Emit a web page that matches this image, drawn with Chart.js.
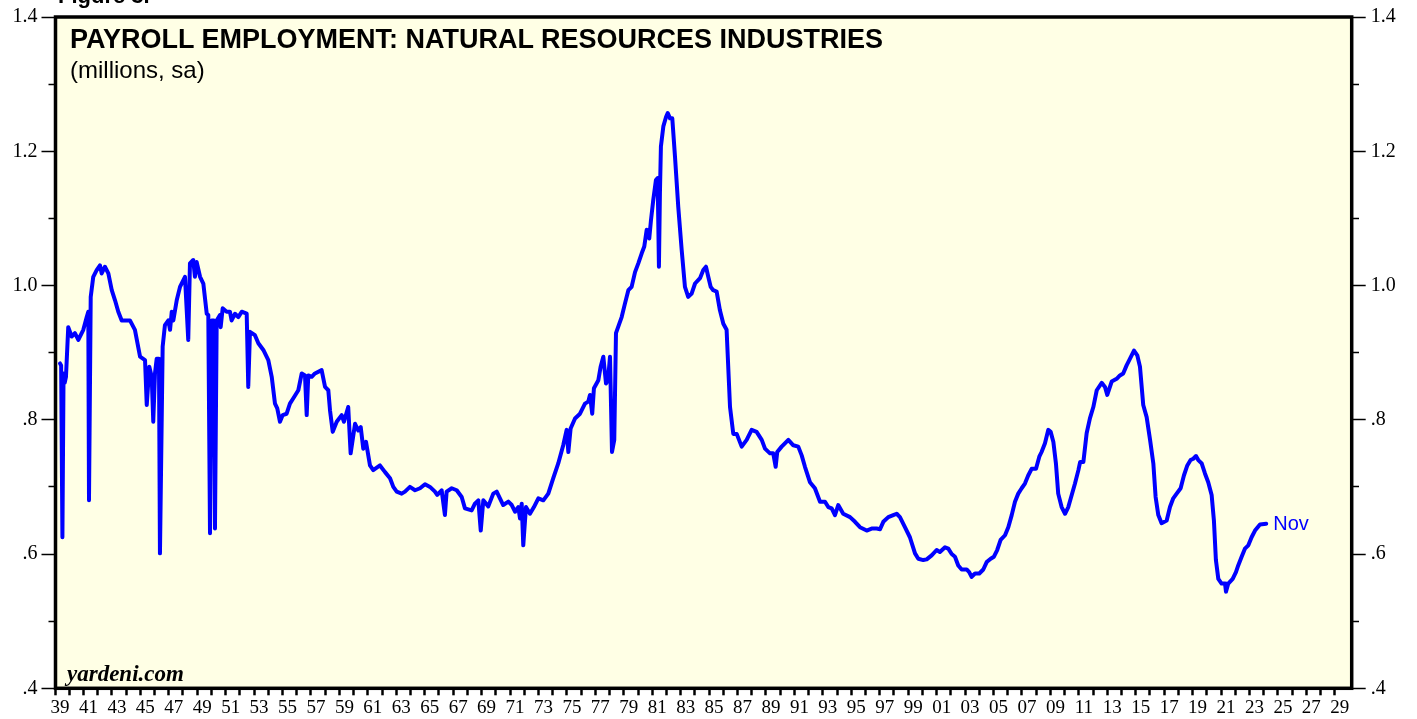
<!DOCTYPE html>
<html>
<head>
<meta charset="utf-8">
<title>Payroll Employment: Natural Resources Industries</title>
<script src="https://cdn.jsdelivr.net/npm/chart.js@4.4.1/dist/chart.umd.min.js"></script>
<style>
  html, body { margin: 0; padding: 0; background: #ffffff; }
  #wrap { position: relative; width: 1417px; height: 719px; overflow: hidden; }
  #chartEmployment { position: absolute; left: 0; top: 0; }
  .txt { position: absolute; white-space: nowrap; line-height: 1; color: #000; }
  #figure { left: 58px; top: -17px; font: bold 22px "Liberation Sans", Arial, sans-serif; }
  #title { left: 70px; top: 24px; font: bold 27px "Liberation Sans", Arial, sans-serif; }
  #subtitle { left: 70px; top: 56px; font: 24px "Liberation Sans", Arial, sans-serif; }
  #source { left: 67px; top: 661px; font: italic bold 23px "Liberation Serif", "Times New Roman", serif; }
</style>
</head>
<body>
<div id="wrap">
  <canvas id="chartEmployment" width="1417" height="719"></canvas>
  <div class="txt" id="figure">Figure 3.</div>
  <div class="txt" id="title">PAYROLL EMPLOYMENT: NATURAL RESOURCES INDUSTRIES</div>
  <div class="txt" id="subtitle">(millions, sa)</div>
  <div class="txt" id="source">yardeni.com</div>
</div>
<script>
// decimal year, millions of jobs (sa)
const years = [
  1939.00,1939.08,1939.17,1939.25,1939.33,1939.42,1939.58,1939.82,1940.05,1940.29,
  1940.64,1940.88,1940.99,1941.04,1941.16,1941.34,1941.58,1941.81,1941.93,1942.16,
  1942.40,1942.64,1942.87,1943.10,1943.34,1943.69,1943.92,1944.27,1944.63,1944.98,
  1945.10,1945.28,1945.45,1945.56,1945.68,1945.80,1945.96,1946.03,1946.22,1946.38,
  1946.62,1946.74,1946.86,1946.97,1947.21,1947.44,1947.79,1948.02,1948.14,1948.37,
  1948.49,1948.61,1948.85,1949.08,1949.32,1949.43,1949.55,1949.67,1949.83,1949.90,
  1950.02,1950.25,1950.30,1950.44,1950.72,1950.95,1951.07,1951.31,1951.54,1951.78,
  1952.13,1952.24,1952.36,1952.71,1952.95,1953.30,1953.65,1953.89,1954.12,1954.28,
  1954.47,1954.66,1954.94,1955.17,1955.41,1955.76,1956.00,1956.23,1956.35,1956.46,
  1956.70,1956.93,1957.40,1957.64,1957.87,1957.99,1958.18,1958.46,1958.81,1958.97,
  1959.27,1959.44,1959.75,1959.98,1960.15,1960.33,1960.52,1960.80,1961.03,1961.50,
  1961.86,1962.21,1962.44,1962.68,1963.03,1963.26,1963.61,1963.97,1964.32,1964.67,
  1965.02,1965.37,1965.53,1965.84,1966.07,1966.19,1966.55,1966.90,1967.25,1967.48,
  1967.95,1968.18,1968.42,1968.59,1968.77,1969.12,1969.47,1969.71,1970.17,1970.53,
  1970.77,1971.00,1971.23,1971.35,1971.47,1971.58,1971.77,1972.05,1972.33,1972.64,
  1972.99,1973.34,1973.69,1974.04,1974.39,1974.63,1974.75,1974.91,1975.22,1975.57,
  1975.92,1976.15,1976.27,1976.43,1976.55,1976.86,1977.02,1977.21,1977.40,1977.54,
  1977.68,1977.82,1977.98,1978.10,1978.33,1978.50,1978.73,1978.97,1979.20,1979.44,
  1979.67,1979.91,1980.09,1980.26,1980.44,1980.56,1980.72,1980.91,1981.03,1981.12,
  1981.19,1981.26,1981.43,1981.62,1981.74,1981.90,1982.06,1982.25,1982.48,1982.72,
  1982.95,1983.18,1983.42,1983.66,1984.01,1984.24,1984.43,1984.59,1984.76,1984.94,
  1985.18,1985.41,1985.65,1985.88,1986.12,1986.35,1986.59,1986.94,1987.29,1987.64,
  1987.99,1988.35,1988.58,1988.93,1989.16,1989.33,1989.44,1989.75,1989.98,1990.22,
  1990.57,1990.92,1991.16,1991.39,1991.74,1992.09,1992.45,1992.80,1993.03,1993.27,
  1993.50,1993.73,1994.08,1994.56,1994.91,1995.26,1995.73,1996.08,1996.43,1996.67,
  1996.90,1997.25,1997.60,1997.84,1998.07,1998.42,1998.77,1999.13,1999.36,1999.71,
  1999.95,2000.30,2000.65,2000.88,2001.24,2001.47,2001.71,2001.94,2002.17,2002.41,
  2002.76,2002.94,2003.11,2003.35,2003.65,2003.93,2004.17,2004.45,2004.68,2004.91,
  2005.15,2005.46,2005.69,2005.93,2006.16,2006.39,2006.63,2006.86,2007.09,2007.33,
  2007.64,2007.87,2008.03,2008.27,2008.50,2008.67,2008.86,2009.04,2009.20,2009.44,
  2009.68,2009.91,2010.15,2010.38,2010.62,2010.74,2010.97,2011.20,2011.43,2011.67,
  2011.91,2012.26,2012.49,2012.65,2012.96,2013.31,2013.54,2013.77,2014.01,2014.25,
  2014.53,2014.76,2014.95,2015.18,2015.42,2015.66,2015.89,2016.05,2016.24,2016.47,
  2016.83,2017.06,2017.29,2017.53,2017.81,2018.04,2018.28,2018.51,2018.70,2018.89,
  2019.05,2019.29,2019.52,2019.75,2019.99,2020.15,2020.29,2020.46,2020.69,2020.93,
  2021.00,2021.16,2021.47,2021.70,2021.86,2022.10,2022.33,2022.57,2022.80,2023.04,
  2023.39,2023.83
];

const employment = [
  0.884,0.881,0.625,0.869,0.855,0.864,0.938,0.924,0.929,0.919,
  0.934,0.953,0.961,0.680,0.983,1.013,1.023,1.030,1.018,1.028,
  1.018,0.993,0.978,0.961,0.948,0.948,0.948,0.934,0.894,0.889,
  0.822,0.879,0.864,0.797,0.869,0.891,0.891,0.601,0.909,0.941,
  0.948,0.934,0.961,0.948,0.978,0.998,1.013,0.919,1.033,1.038,
  1.013,1.035,1.013,1.003,0.958,0.956,0.631,0.948,0.948,0.638,
  0.948,0.956,0.938,0.966,0.961,0.961,0.948,0.958,0.953,0.961,
  0.958,0.849,0.931,0.926,0.914,0.904,0.889,0.864,0.824,0.817,
  0.797,0.807,0.809,0.824,0.832,0.844,0.869,0.866,0.807,0.866,
  0.864,0.869,0.874,0.849,0.844,0.814,0.782,0.797,0.807,0.797,
  0.819,0.750,0.794,0.784,0.789,0.757,0.767,0.732,0.725,0.732,
  0.722,0.713,0.700,0.693,0.690,0.693,0.700,0.695,0.698,0.704,
  0.700,0.693,0.688,0.695,0.658,0.693,0.698,0.695,0.685,0.668,
  0.665,0.675,0.680,0.635,0.680,0.671,0.690,0.693,0.673,0.678,
  0.673,0.663,0.670,0.653,0.675,0.613,0.670,0.660,0.670,0.683,
  0.680,0.690,0.713,0.735,0.762,0.785,0.752,0.787,0.802,0.809,
  0.824,0.827,0.837,0.809,0.847,0.859,0.879,0.894,0.854,0.859,
  0.894,0.752,0.770,0.929,0.943,0.953,0.973,0.993,0.998,1.020,
  1.033,1.048,1.058,1.083,1.070,1.097,1.127,1.157,1.160,1.028,
  1.137,1.207,1.237,1.251,1.257,1.249,1.249,1.192,1.117,1.053,
  0.998,0.983,0.988,1.003,1.011,1.023,1.028,1.013,0.998,0.993,
  0.991,0.963,0.943,0.934,0.819,0.779,0.779,0.760,0.770,0.785,
  0.782,0.770,0.757,0.750,0.750,0.730,0.752,0.760,0.765,0.770,
  0.762,0.760,0.747,0.730,0.707,0.698,0.678,0.678,0.670,0.668,
  0.658,0.673,0.660,0.655,0.648,0.640,0.635,0.638,0.638,0.637,
  0.648,0.655,0.658,0.660,0.655,0.640,0.625,0.601,0.593,0.591,
  0.592,0.598,0.606,0.603,0.610,0.608,0.600,0.596,0.583,0.577,
  0.577,0.573,0.566,0.571,0.571,0.577,0.588,0.593,0.596,0.606,
  0.621,0.628,0.640,0.658,0.678,0.690,0.698,0.705,0.717,0.727,
  0.727,0.745,0.752,0.765,0.785,0.782,0.767,0.735,0.690,0.670,
  0.660,0.670,0.688,0.705,0.725,0.737,0.737,0.780,0.802,0.819,
  0.844,0.855,0.849,0.837,0.857,0.861,0.866,0.869,0.881,0.891,
  0.903,0.896,0.879,0.822,0.804,0.770,0.735,0.685,0.658,0.646,
  0.650,0.670,0.683,0.690,0.698,0.717,0.732,0.740,0.742,0.746,
  0.740,0.735,0.720,0.707,0.688,0.650,0.591,0.563,0.556,0.556,
  0.544,0.556,0.563,0.573,0.583,0.596,0.608,0.613,0.625,0.635,
  0.644,0.645
];

// axis ticks
const tickYears = [];
for (let y = 1939; y <= 2029; y++) tickYears.push(y);
const lastLabel = 'Nov';

document.addEventListener('DOMContentLoaded', function () {
  chartEmployment();
});

function yLabel(v) {
  const n = Math.round(v * 10);
  if (n % 2) return '';
  const s = (n / 10).toFixed(1);
  return n < 10 ? s.slice(1) : s;
}

function isMinor(ctx) {
  return Math.round(ctx.tick.value * 10) % 2 === 1;
}

function chartEmployment() {
  const canva = document.getElementById('chartEmployment').getContext('2d');

  const plotFrame = {
    id: 'plotFrame',
    beforeDraw(chart) {
      const a = chart.chartArea;
      const c = chart.ctx;
      c.save();
      c.fillStyle = '#ffffe5';
      c.fillRect(a.left, a.top, a.right - a.left, a.bottom - a.top);
      c.restore();
    },
    afterDraw(chart) {
      const a = chart.chartArea;
      const c = chart.ctx;
      c.save();
      c.strokeStyle = '#000000';
      c.lineWidth = 3.5;
      c.strokeRect(a.left, a.top, a.right - a.left, a.bottom - a.top);
      c.restore();
    }
  };

  const endLabel = {
    id: 'endLabel',
    afterDatasetsDraw(chart) {
      const meta = chart.getDatasetMeta(0);
      const pt = meta.data[meta.data.length - 1];
      const c = chart.ctx;
      c.save();
      c.fillStyle = '#0000ff';
      c.font = '20px "Liberation Sans", Arial, sans-serif';
      c.textBaseline = 'middle';
      c.fillText(lastLabel, pt.x + 7, pt.y + 1);
      c.restore();
    }
  };

  const yTicksCommon = {
    stepSize: 0.1,
    color: '#000000',
    font: { family: '"Liberation Serif", "Times New Roman", serif', size: 20 },
    callback: yLabel
  };

  new Chart(canva, {
    type: 'line',
    data: {
      datasets: [{
        label: 'Natural resources payroll employment',
        data: years.map((x, i) => ({ x: x, y: employment[i] })),
        borderColor: '#0000ff',
        borderWidth: 4,
        borderJoinStyle: 'round',
        borderCapStyle: 'round',
        pointRadius: 0,
        tension: 0,
        fill: false
      }]
    },
    options: {
      responsive: false,
      animation: false,
      layout: { padding: { top: 15.7, left: 0, right: 0, bottom: 0 } },
      plugins: {
        legend: { display: false },
        tooltip: { enabled: false },
        decimation: { enabled: false }
      },
      scales: {
        x: {
          type: 'linear',
          min: 1938.684,
          max: 2029.84,
          afterBuildTicks: function (scale) {
            scale.ticks = tickYears.map(y => ({ value: y - 0.35 }));
          },
          afterFit: function (scale) { scale.height = 30.7; },
          border: { display: false },
          grid: {
            drawOnChartArea: false,
            drawTicks: true,
            tickLength: 7,
            tickWidth: 2.5,
            tickColor: '#000000'
          },
          ticks: {
            autoSkip: false,
            maxRotation: 0,
            minRotation: 0,
            padding: 1,
            labelOffset: 5,
            color: '#000000',
            font: { family: '"Liberation Serif", "Times New Roman", serif', size: 19 },
            callback: function (v) {
              const y = Math.round(v + 0.35);
              return y % 2 ? String(y % 100).padStart(2, '0') : '';
            }
          }
        },
        y: {
          position: 'left',
          min: 0.4,
          max: 1.4,
          afterFit: function (scale) { scale.width = 55.5; },
          border: { display: false },
          grid: {
            drawOnChartArea: false,
            tickLength: 14,
            tickWidth: 1.5,
            tickColor: '#000000',
            tickBorderDash: ctx => isMinor(ctx) ? [7, 7] : [],
            tickBorderDashOffset: 7
          },
          ticks: Object.assign({ padding: 4 }, yTicksCommon)
        },
        y2: {
          position: 'right',
          min: 0.4,
          max: 1.4,
          afterFit: function (scale) { scale.width = 65.3; },
          border: { display: false },
          grid: {
            drawOnChartArea: false,
            tickLength: 14,
            tickWidth: 1.5,
            tickColor: '#000000',
            tickBorderDash: ctx => isMinor(ctx) ? [7, 7] : [],
            tickBorderDashOffset: 0
          },
          ticks: Object.assign({ padding: 5 }, yTicksCommon)
        }
      }
    },
    plugins: [plotFrame, endLabel]
  });
}
</script>
</body>
</html>
